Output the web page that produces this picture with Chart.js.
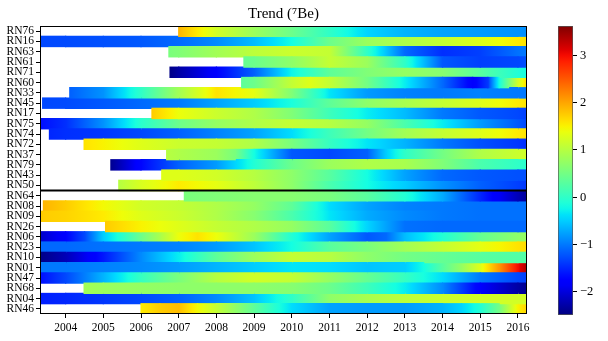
<!DOCTYPE html>
<html>
<head>
<meta charset="utf-8">
<script src="https://cdn.jsdelivr.net/npm/chart.js@4.4.0/dist/chart.umd.min.js"></script>
<style>
  body { margin: 0; background: #fff; }
  #wrap { position: relative; width: 608px; height: 341px; }
  #main { position: absolute; left: 0; top: 0; }
  #cbar { position: absolute; left: 540px; top: 0; }
</style>
</head>
<body>
<div id="wrap">
  <canvas id="main" width="608" height="341"></canvas>
  <canvas id="cbar" width="68" height="341"></canvas>
</div>
<script>
// rows, top to bottom
const rowNames = ['RN76', 'RN16', 'RN63', 'RN61', 'RN71', 'RN60', 'RN33', 'RN45', 'RN17', 'RN75',
  'RN74', 'RN72', 'RN37', 'RN79', 'RN43', 'RN50',
  'RN64', 'RN08', 'RN09', 'RN26', 'RN06', 'RN23', 'RN10', 'RN01', 'RN47', 'RN68', 'RN04', 'RN46'];

// trend: [year, value] per row
const trend = [
  [[2007.0, 1.9], [2008, 1.2], [2009, 0.8], [2010, 0.45], [2011, 0.0], [2012, -0.45], [2013, -0.65], [2014, -0.75], [2015, -0.8], [2016, -0.85], [2016.24, -0.88]],
  [[2003.32, -1.3], [2004, -1.28], [2005, -1.25], [2006, -1.2], [2007, -1.1], [2008, -0.9], [2009, -0.6], [2010, -0.2], [2011, 0.45], [2012, 0.8], [2013, 0.95], [2014, 1.1], [2015, 1.3], [2016, 1.55], [2016.24, 1.6]],
  [[2006.74, 0.55], [2007, 0.6], [2008, 0.85], [2009, 1.05], [2010, 1.15], [2011, 1.1], [2012, 0.0], [2013, -1.1], [2014, -1.45], [2015, -1.35], [2016, -1.05], [2016.24, -1.0]],
  [[2008.73, 0.4], [2009, 0.45], [2010, 0.7], [2011, 1.1], [2012, 0.8], [2013, 0.0], [2014, -1.2], [2015, -1.35], [2016, -1.3], [2016.24, -1.25]],
  [[2006.77, -2.45], [2007, -2.3], [2008, -1.75], [2009, -1.15], [2010, -0.25], [2011, 0.35], [2012, 0.6], [2013, 0.75], [2014, 0.65], [2015, 0.3], [2016, -0.1], [2016.24, -0.2]],
  [[2008.67, 0.35], [2009, 0.45], [2010, 1.1], [2010.5, 1.3], [2011, 1.1], [2012, 0.5], [2013, -0.3], [2014, -1.1], [2014.8, -1.8], [2015.2, -1.4], [2015.5, -0.2], [2015.75, 0.5], [2016, 1.2], [2016.24, 1.65]],
  [[2004.11, -1.15], [2005, -0.85], [2006, 0.0], [2007, 0.85], [2008, 1.6], [2009, 1.35], [2010, 0.6], [2011, -0.35], [2012, -0.8], [2013, -0.95], [2014, -1.0], [2015, -0.95], [2016, -1.0], [2016.24, -1.0]],
  [[2003.39, -1.3], [2004, -1.28], [2005, -1.2], [2006, -1.1], [2007, -1.0], [2008, -0.75], [2009, -0.5], [2010, -0.15], [2011, 0.35], [2012, 0.7], [2013, 0.9], [2014, 1.1], [2015, 1.3], [2016, 1.55], [2016.24, 1.6]],
  [[2006.29, 1.75], [2007, 1.4], [2008, 1.15], [2009, 0.95], [2010, 0.6], [2011, 0.1], [2012, -0.3], [2013, -0.6], [2014, -1.0], [2015, -1.2], [2016, -1.3], [2016.24, -1.35]],
  [[2003.32, -1.65], [2004, -1.45], [2005, -0.85], [2006, -0.05], [2007, 0.45], [2008, 0.75], [2009, 0.95], [2010, 1.1], [2011, 1.0], [2012, 0.75], [2013, 0.2], [2014, -0.3], [2015, -0.8], [2016, -1.2], [2016.24, -1.3]],
  [[2003.57, -1.5], [2004, -1.45], [2005, -1.4], [2006, -1.3], [2007, -1.15], [2008, -0.95], [2009, -0.75], [2010, -0.4], [2011, 0.1], [2012, 0.5], [2013, 0.85], [2014, 1.1], [2015, 1.3], [2016, 1.55], [2016.24, 1.6]],
  [[2004.49, 1.6], [2005, 1.5], [2006, 1.3], [2007, 1.15], [2008, 1.1], [2009, 0.95], [2010, 0.55], [2011, 0.05], [2012, -0.35], [2013, -0.65], [2014, -1.0], [2015, -1.25], [2016, -1.4], [2016.24, -1.45]],
  [[2006.68, 1.0], [2007, 0.95], [2008, 0.8], [2008.5, 0.55], [2009, -0.2], [2010, -1.2], [2011, -1.3], [2012, -1.15], [2012.5, -0.5], [2013, 0.0], [2014, 0.5], [2015, 0.95], [2016, 1.15], [2016.24, 1.2]],
  [[2005.2, -2.4], [2006, -1.7], [2007, -1.15], [2008, -0.8], [2009, -0.1], [2010, 0.45], [2011, 0.8], [2012, 0.95], [2013, 0.9], [2014, 0.6], [2015, 0.2], [2016, 0.0], [2016.24, -0.05]],
  [[2006.55, 1.3], [2007, 1.3], [2008, 1.2], [2009, 1.0], [2010, 0.7], [2011, 0.3], [2012, -0.2], [2013, -0.75], [2014, -1.1], [2015, -1.2], [2016, -1.25], [2016.24, -1.25]],
  [[2005.41, 1.0], [2006, 1.25], [2007, 1.55], [2008, 1.35], [2009, 1.05], [2010, 0.7], [2011, 0.2], [2012, -0.2], [2013, -0.5], [2014, -0.85], [2015, -1.15], [2016, -1.35], [2016.24, -1.4]],
  [[2007.15, 0.55], [2008, 0.6], [2009, 0.65], [2010, 0.65], [2011, 0.55], [2012, 0.3], [2013, -0.1], [2014, -0.7], [2015, -1.5], [2016, -2.2], [2016.24, -2.35]],
  [[2003.41, 1.9], [2004, 1.75], [2005, 1.45], [2006, 1.2], [2007, 1.1], [2008, 0.95], [2009, 0.75], [2010, 0.35], [2011, -0.4], [2012, -0.75], [2013, -0.95], [2014, -1.0], [2015, -1.05], [2016, -1.05], [2016.24, -1.05]],
  [[2003.32, 1.75], [2004, 1.7], [2005, 1.55], [2006, 1.3], [2007, 1.15], [2008, 0.95], [2009, 0.65], [2010, 0.2], [2011, -0.35], [2012, -0.7], [2013, -0.9], [2014, -1.0], [2015, -1.05], [2016, -1.05], [2016.24, -1.05]],
  [[2005.06, 1.75], [2006, 1.5], [2007, 1.3], [2008, 1.1], [2009, 0.95], [2010, 0.75], [2011, 0.3], [2012, -0.45], [2013, -1.05], [2014, -1.1], [2015, -1.1], [2016, -1.1], [2016.24, -1.1]],
  [[2003.32, -2.1], [2004, -1.75], [2004.5, -1.3], [2005, -0.5], [2005.5, -0.05], [2006, 0.45], [2006.5, 0.9], [2007, 1.4], [2007.5, 1.6], [2008, 1.4], [2009, 0.8], [2010, -0.1], [2011, -0.75], [2012, -1.2], [2012.5, -1.1], [2013, -0.6], [2014, -0.1], [2015, 0.4], [2016, 0.7], [2016.24, 0.75]],
  [[2003.32, -1.1], [2004, -1.1], [2005, -1.05], [2006, -1.0], [2007, -0.95], [2008, -0.8], [2009, -0.55], [2010, -0.2], [2011, 0.3], [2012, 0.55], [2013, 0.85], [2014, 1.1], [2015, 1.35], [2016, 1.6], [2016.24, 1.65]],
  [[2003.32, -2.45], [2004, -2.2], [2005, -1.6], [2006, -0.9], [2007, -0.3], [2008, 0.35], [2009, 0.8], [2010, 1.1], [2011, 1.0], [2012, 0.7], [2013, 0.5], [2014, 0.4], [2015, 0.3], [2016, 0.25], [2016.24, 0.25]],
  [[2003.32, -1.0], [2004, -1.0], [2005, -0.95], [2006, -0.9], [2007, -0.8], [2008, -0.65], [2009, -0.5], [2010, -0.35], [2011, -0.4], [2012, -0.55], [2013, -0.5], [2013.5, -0.2], [2014, 0.3], [2014.5, 0.75], [2015, 1.3], [2015.5, 2.1], [2016, 3.0], [2016.24, 3.4]],
  [[2003.32, -1.65], [2004, -1.3], [2005, -0.65], [2006, 0.05], [2007, 0.55], [2008, 1.0], [2009, 1.2], [2010, 1.1], [2011, 0.75], [2012, 0.4], [2013, 0.05], [2014, -0.4], [2015, -1.0], [2016, -1.3], [2016.24, -1.35]],
  [[2004.49, 0.85], [2005, 0.8], [2006, 0.75], [2007, 0.7], [2008, 0.7], [2009, 0.7], [2010, 0.65], [2011, 0.45], [2012, 0.1], [2013, -0.3], [2014, -0.9], [2015, -1.8], [2016, -2.3], [2016.24, -2.4]],
  [[2003.32, -1.55], [2004, -1.5], [2005, -1.4], [2006, -1.3], [2007, -1.15], [2008, -0.9], [2009, -0.55], [2010, 0.0], [2011, 0.7], [2012, 0.9], [2013, 1.05], [2014, 1.15], [2015, 1.2], [2016, 1.2], [2016.24, 1.2]],
  [[2006.0, 1.55], [2006.5, 1.75], [2007, 1.85], [2007.5, 1.45], [2008, 1.1], [2009, 0.35], [2010, -0.4], [2011, -0.75], [2012, -0.8], [2013, -0.8], [2014, -0.65], [2014.5, -0.45], [2015, -0.1], [2015.5, 0.5], [2016, 1.5], [2016.24, 1.7]]
];

const xMin = 2003.32, xMax = 2016.24;
const vMin = -2.49, vMax = 3.62;
const cbTicks = [-2, -1, 0, 1, 2, 3];
const splitAfter = 15; // thick line below RN50

// matplotlib jet
const jetR = [[0, 0], [0.35, 0], [0.66, 1], [0.89, 1], [1, 0.5]];
const jetG = [[0, 0], [0.125, 0], [0.375, 1], [0.64, 1], [0.91, 0], [1, 0]];
const jetB = [[0, 0.5], [0.11, 1], [0.34, 1], [0.65, 0], [1, 0]];
function seg(tbl, t) {
  for (let i = 1; i < tbl.length; i++) {
    if (t <= tbl[i][0]) {
      const a = tbl[i - 1], b = tbl[i];
      return a[1] + (b[1] - a[1]) * (t - a[0]) / (b[0] - a[0]);
    }
  }
  return tbl[tbl.length - 1][1];
}
function jet(v) {
  let t = (v - vMin) / (vMax - vMin);
  t = Math.max(0, Math.min(1, t));
  const r = Math.round(255 * seg(jetR, t)), g = Math.round(255 * seg(jetG, t)), b = Math.round(255 * seg(jetB, t));
  return 'rgb(' + r + ',' + g + ',' + b + ')';
}

const serif = "'Liberation Serif', 'DejaVu Serif', serif";
const minus = v => String(v).replace('-', '\u2212');

function gradientBetween(ctx, a, b, v0, v1, vertical) {
  if (!isFinite(a) || !isFinite(b) || a === b) return jet((v0 + v1) / 2);
  const g = vertical ? ctx.createLinearGradient(0, a, 0, b) : ctx.createLinearGradient(a, 0, b, 0);
  const n = Math.max(2, Math.ceil(Math.abs(v1 - v0) * 8));
  for (let k = 0; k <= n; k++) {
    g.addColorStop(k / n, jet(v0 + (v1 - v0) * k / n));
  }
  return g;
}

const nSeg = Math.max(...trend.map(r => r.length - 1));
const datasets = [];
for (let j = 0; j < nSeg; j++) {
  datasets.push({
    data: trend.map(r => (r[j + 1] ? [r[j][0], r[j + 1][0]] : null)),
    backgroundColor: function (c) {
      const row = trend[c.dataIndex];
      if (!row || !row[j + 1]) return '#fff';
      const p0 = row[j], p1 = row[j + 1];
      const xs = c.chart.scales.x;
      const a = xs ? xs.getPixelForValue(p0[0]) : NaN;
      const b = xs ? xs.getPixelForValue(p1[0]) : NaN;
      return gradientBetween(c.chart.ctx, a, b, p0[1], p1[1], false);
    },
    borderWidth: 0,
    inflateAmount: 0.6,
    barPercentage: 1,
    categoryPercentage: 1,
    grouped: false
  });
}

const framePlugin = {
  id: 'frame',
  afterDraw(chart) {
    const a = chart.chartArea, ctx = chart.ctx, y = chart.scales.y;
    ctx.save();
    ctx.strokeStyle = '#000';
    ctx.lineWidth = 2;
    const ys = y.getPixelForValue(splitAfter + 0.5);
    ctx.beginPath();
    ctx.moveTo(a.left, ys);
    ctx.lineTo(a.right, ys);
    ctx.stroke();
    ctx.lineWidth = 1;
    ctx.strokeRect(a.left + 0.5, a.top + 0.5, a.right - a.left - 1, a.bottom - a.top - 1);
    ctx.restore();
  }
};

new Chart(document.getElementById('main'), {
  type: 'bar',
  data: { labels: rowNames, datasets: datasets },
  options: {
    indexAxis: 'y',
    responsive: false,
    animation: false,
    events: [],
    layout: { padding: { left: 0, right: 81, top: 0, bottom: 0 } },
    plugins: {
      legend: { display: false },
      tooltip: { enabled: false },
      title: {
        display: true,
        text: 'Trend (\u2077Be)',
        fullSize: false,
        color: '#000',
        font: { family: serif, size: 15, weight: 'normal', lineHeight: 1.2 },
        padding: { top: 5, bottom: 3 }
      }
    },
    scales: {
      x: {
        type: 'linear',
        min: xMin,
        max: xMax,
        ticks: {
          stepSize: 1,
          includeBounds: false,
          color: '#000',
          padding: 3,
          maxRotation: 0,
          font: { family: serif, size: 11.5 },
          callback: v => String(v)
        },
        grid: { drawOnChartArea: false, drawTicks: true, tickLength: 4, color: '#000' },
        border: { display: false },
        afterFit: s => { s.height = 27; }
      },
      y: {
        type: 'category',
        ticks: {
          color: '#000',
          padding: 2,
          autoSkip: false,
          font: { family: serif, size: 11.5 }
        },
        grid: { drawOnChartArea: false, drawTicks: true, tickLength: 4, color: '#000', offset: false },
        border: { display: false },
        afterFit: s => { s.width = 40; }
      }
    }
  },
  plugins: [framePlugin]
});

// colour bar
new Chart(document.getElementById('cbar'), {
  type: 'bar',
  data: {
    labels: [''],
    datasets: [{
      data: [[vMin, vMax]],
      backgroundColor: function (c) {
        const ys = c.chart.scales.y;
        const a = ys ? ys.getPixelForValue(vMin) : NaN;
        const b = ys ? ys.getPixelForValue(vMax) : NaN;
        return gradientBetween(c.chart.ctx, a, b, vMin, vMax, true);
      },
      borderColor: '#555',
      borderWidth: 1,
      borderSkipped: false,
      barPercentage: 1,
      categoryPercentage: 1
    }]
  },
  options: {
    responsive: false,
    animation: false,
    events: [],
    layout: { padding: { left: 18, right: 0, top: 26, bottom: 26 } },
    plugins: { legend: { display: false }, tooltip: { enabled: false } },
    scales: {
      x: { display: false },
      y: {
        position: 'right',
        min: vMin,
        max: vMax,
        afterBuildTicks: s => { s.ticks = cbTicks.map(v => ({ value: v })); },
        ticks: {
          color: '#000',
          padding: 3,
          font: { family: serif, size: 12.5 },
          callback: v => minus(v)
        },
        grid: { drawOnChartArea: false, drawTicks: true, tickLength: 4, color: '#000' },
        border: { display: false },
        afterFit: s => { s.width = 35; }
      }
    }
  }
});
</script>
</body>
</html>
